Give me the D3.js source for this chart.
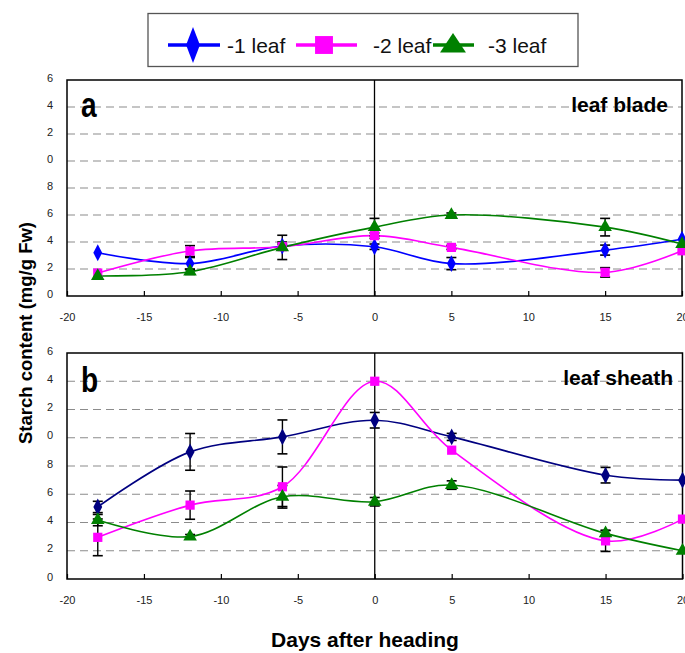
<!DOCTYPE html>
<html><head><meta charset="utf-8">
<script src="https://cdn.jsdelivr.net/npm/d3@7"></script>
<style>
body{margin:0;background:#fff;}
svg{display:block;font-family:"Liberation Sans",Arial,sans-serif;}
</style></head>
<body><svg id="c" width="685" height="653"></svg>
<script>
const days = [-18, -12, -6, 0, 5, 15, 20];
const seriesNames = ["-1 leaf", "-2 leaf", "-3 leaf"];
const bladeLeaf1 = [3.2, 2.4, 3.7, 3.65, 2.4, 3.4, 4.2];
const bladeLeaf2 = [1.7, 3.33, 3.65, 4.47, 3.6, 1.75, 3.35];
const bladeLeaf3 = [1.48, 1.8, 3.6, 5.1, 6.0, 5.1, 3.85];
const bladeErr1 = [0, 0.45, 0.3, 0.2, 0.45, 0.37, 0];
const bladeErr2 = [0, 0.4, 0.2, 0.2, 0.15, 0.35, 0];
const bladeErr3 = [0, 0.2, 0.9, 0.65, 0.15, 0.65, 0];
const sheathLeaf1 = [5.1, 9.0, 10.06, 11.24, 10.06, 7.35, 7.0];
const sheathLeaf2 = [2.95, 5.23, 6.53, 14.0, 9.12, 2.7, 4.24];
const sheathLeaf3 = [4.17, 3.0, 5.82, 5.47, 6.65, 3.23, 2.0];
const sheathErr1 = [0.4, 1.3, 1.2, 0.55, 0.25, 0.55, 0];
const sheathErr2 = [1.3, 1.0, 1.4, 0, 0, 0.75, 0];
const sheathErr3 = [0.4, 0.15, 0.8, 0.3, 0.3, 0.2, 0];
const xTickValues = [-20, -15, -10, -5, 0, 5, 10, 15, 20];
const xTickLabels = ["-20", "-15", "-10", "-5", "0", "5", "10", "15", "20"];
const yTickValues = [0, 2, 4, 6, 8, 10, 12, 14, 16];
const yTickLabels = ["0", "2", "4", "6", "8", "0", "2", "4", "6"];
const gridValues = [2, 4, 6, 8, 10, 12, 14];

const svg = d3.select("#c");
const font = '"Liberation Sans",Arial,sans-serif';

const panels = [
  {letter: "a", title: "leaf blade", y0: 296, y1: 80, x0: 67, x1: 682,
   vals: [bladeLeaf1, bladeLeaf2, bladeLeaf3], errs: [bladeErr1, bladeErr2, bladeErr3],
   colors: ["#0000ff", "#ff00ff", "#008000"], titleY: 112, letterY: 116.5},
  {letter: "b", title: "leaf sheath", y0: 579, y1: 353, x0: 67, x1: 682.5,
   vals: [sheathLeaf1, sheathLeaf2, sheathLeaf3], errs: [sheathErr1, sheathErr2, sheathErr3],
   colors: ["#000080", "#ff00ff", "#008000"], titleY: 385, letterY: 391.5}
];
const symbols = [d3.symbolDiamond, d3.symbolSquare, d3.symbolTriangle];
const symSizes = [75, 85, 80];

panels.forEach(p => {
  const x = d3.scaleLinear().domain([-20, 20]).range([p.x0, p.x1]);
  const y = d3.scaleLinear().domain([0, 16]).range([p.y0, p.y1]);
  const g = svg.append("g");

  g.selectAll("line.grid").data(gridValues).join("line")
    .attr("x1", p.x0).attr("x2", p.x1)
    .attr("y1", d => y(d)).attr("y2", d => y(d))
    .attr("stroke", "#8c8c8c").attr("stroke-width", 1.2).attr("stroke-dasharray", "8,5");

  g.append("rect").attr("x", p.x0).attr("y", p.y1).attr("width", p.x1 - p.x0).attr("height", p.y0 - p.y1)
    .attr("fill", "none").attr("stroke", "#000").attr("stroke-width", 1.5);
  g.append("line").attr("x1", x(0)).attr("x2", x(0)).attr("y1", p.y1).attr("y2", p.y0)
    .attr("stroke", "#000").attr("stroke-width", 1.3);

  const xa = g.append("g").attr("transform", `translate(0,${p.y0})`)
    .call(d3.axisBottom(x).tickValues(xTickValues).tickSizeInner(-5).tickSizeOuter(0).tickPadding(17)
      .tickFormat((d, i) => xTickLabels[i]));
  xa.select(".domain").remove();
  xa.selectAll(".tick line").attr("stroke", "#000").attr("stroke-width", 1.2);
  xa.selectAll(".tick text").attr("font-family", font).attr("font-size", 11).attr("fill", "#222");

  const ya = g.append("g").attr("transform", `translate(${p.x0},0)`)
    .call(d3.axisLeft(y).tickValues(yTickValues).tickSize(0).tickPadding(14)
      .tickFormat((d, i) => yTickLabels[i]));
  ya.select(".domain").remove();
  ya.selectAll(".tick text").attr("font-family", font).attr("font-size", 11).attr("fill", "#222").attr("dy", "0.09em");

  const line = d3.line().x((d, i) => x(days[i])).y(d => y(d)).curve(d3.curveCatmullRom.alpha(0.5));
  p.vals.forEach((v, k) => {
    g.append("path").datum(v).attr("d", line).attr("fill", "none")
      .attr("stroke", p.colors[k]).attr("stroke-width", 1.6);
  });
  p.vals.forEach((v, k) => {
    const eb = g.append("g");
    v.forEach((val, i) => {
      const e = p.errs[k][i];
      if (!e) return;
      const cx = x(days[i]);
      eb.append("line").attr("x1", cx).attr("x2", cx).attr("y1", y(val - e)).attr("y2", y(val + e))
        .attr("stroke", "#000").attr("stroke-width", 1.4);
      [val - e, val + e].forEach(t => eb.append("line").attr("x1", cx - 5).attr("x2", cx + 5)
        .attr("y1", y(t)).attr("y2", y(t)).attr("stroke", "#000").attr("stroke-width", 1.6));
    });
  });
  p.vals.forEach((v, k) => {
    g.selectAll(null).data(v).join("path")
      .attr("transform", (d, i) => `translate(${x(days[i])},${y(d)})` + (k === 0 ? " scale(0.95,1.05)" : ""))
      .attr("d", d3.symbol().type(symbols[k]).size(symSizes[k]))
      .attr("fill", p.colors[k]);
  });

  g.append("text").attr("transform", `translate(81,${p.letterY}) scale(0.78,1)`)
    .attr("font-family", font).attr("font-weight", "bold").attr("font-size", 36).text(p.letter);
  g.append("text").attr("x", p.letter === "a" ? 668 : 673).attr("y", p.titleY).attr("text-anchor", "end")
    .attr("font-family", font).attr("font-weight", "bold").attr("font-size", 21).text(p.title);
});

svg.append("text").attr("transform", "translate(32,333) rotate(-90)").attr("text-anchor", "middle")
  .attr("font-family", font).attr("font-weight", "bold").attr("font-size", 18.5).text("Starch content (mg/g Fw)");
svg.append("text").attr("x", 365).attr("y", 647).attr("text-anchor", "middle")
  .attr("font-family", font).attr("font-weight", "bold").attr("font-size", 21).text("Days after heading");

const lg = svg.append("g");
lg.append("rect").attr("x", 148).attr("y", 13.5).attr("width", 430).attr("height", 53)
  .attr("fill", "#fff").attr("stroke", "#555").attr("stroke-width", 1.3);
const legendColors = ["#0000ff", "#ff00ff", "#008000"];
const legendItems = [
  {lx1: 168, lx2: 220, sx: 193, tx: 227},
  {lx1: 296, lx2: 357, sx: 324, tx: 373},
  {lx1: 433, lx2: 474, sx: 453, tx: 488}
];
legendItems.forEach((it, k) => {
  lg.append("line").attr("x1", it.lx1).attr("x2", it.lx2).attr("y1", 45).attr("y2", 45)
    .attr("stroke", legendColors[k]).attr("stroke-width", 3.5);
  let tr = `translate(${it.sx},45)`;
  let size = 300;
  if (k === 0) { tr += " scale(0.8,1.2)"; size = 260; }
  if (k === 1) size = 320;
  if (k === 2) { tr = `translate(${it.sx},46) scale(1.15,1)`; size = 220; }
  lg.append("path").attr("transform", tr).attr("d", d3.symbol().type(symbols[k]).size(size)).attr("fill", legendColors[k]);
  lg.append("text").attr("x", it.tx).attr("y", 52.5).attr("font-family", font).attr("font-size", 21)
    .attr("fill", "#111").text(seriesNames[k]);
});
</script></body></html>
